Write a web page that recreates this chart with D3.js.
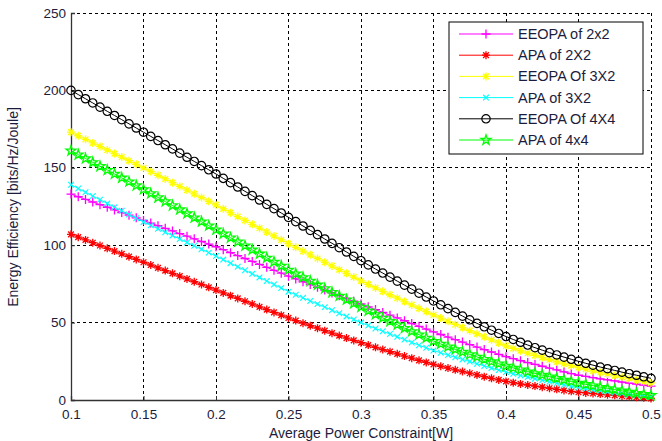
<!DOCTYPE html>
<html>
<head>
<meta charset="utf-8">
<script src="https://cdn.jsdelivr.net/npm/d3@7"></script>
<style>
  body { margin: 0; background: #fff; }
  text { font-family: "Liberation Sans", Arial, sans-serif; }
</style>
</head>
<body>
<div id="chart"></div>
<script>
var svgWidth = 662;
var svgHeight = 441;

var margin = { top: 13, right: 11, bottom: 41, left: 71 };
var chartWidth = svgWidth - margin.left - margin.right;
var chartHeight = svgHeight - margin.top - margin.bottom;

// average power constraint [W]
var powerValues = [
  0.100, 0.105, 0.110, 0.115, 0.120, 0.125, 0.130, 0.135, 0.140, 0.145,
  0.150, 0.155, 0.160, 0.165, 0.170, 0.175, 0.180, 0.185, 0.190, 0.195,
  0.200, 0.205, 0.210, 0.215, 0.220, 0.225, 0.230, 0.235, 0.240, 0.245,
  0.250, 0.255, 0.260, 0.265, 0.270, 0.275, 0.280, 0.285, 0.290, 0.295,
  0.300, 0.305, 0.310, 0.315, 0.320, 0.325, 0.330, 0.335, 0.340, 0.345,
  0.350, 0.355, 0.360, 0.365, 0.370, 0.375, 0.380, 0.385, 0.390, 0.395,
  0.400, 0.405, 0.410, 0.415, 0.420, 0.425, 0.430, 0.435, 0.440, 0.445,
  0.450, 0.455, 0.460, 0.465, 0.470, 0.475, 0.480, 0.485, 0.490, 0.495,
  0.500
];

var eeopa2x2 = [
  133.0, 131.3, 129.6, 127.9, 126.2, 124.5, 122.8, 121.1, 119.4, 117.7,
  116.0, 114.3, 112.6, 110.9, 109.2, 107.5, 105.8, 104.1, 102.4, 100.7,
  99.0, 97.1, 95.2, 93.3, 91.4, 89.5, 87.6, 85.7, 83.8, 81.9,
  80.0, 78.2, 76.4, 74.6, 72.8, 71.0, 69.2, 67.4, 65.6, 63.8,
  62.0, 60.2, 58.4, 56.6, 54.8, 53.0, 51.2, 49.4, 47.6, 45.8,
  44.0, 42.3, 40.6, 39.0, 37.4, 35.8, 34.2, 32.6, 31.0, 29.5,
  28.0, 26.7, 25.4, 24.2, 23.0, 21.8, 20.6, 19.4, 18.2, 17.1,
  16.0, 15.2, 14.4, 13.7, 13.0, 12.3, 11.6, 10.9, 10.2, 9.6,
  9.0
];

var apa2x2 = [
  107.0, 105.2, 103.4, 101.6, 99.8, 98.0, 96.2, 94.4, 92.6, 90.8,
  89.0, 87.2, 85.4, 83.6, 81.8, 80.0, 78.2, 76.4, 74.6, 72.8,
  71.0, 69.2, 67.4, 65.6, 63.8, 62.0, 60.2, 58.4, 56.6, 54.8,
  53.0, 51.3, 49.6, 48.0, 46.4, 44.8, 43.2, 41.6, 40.0, 38.5,
  37.0, 35.5, 34.0, 32.6, 31.2, 29.8, 28.4, 27.0, 25.6, 24.3,
  23.0, 21.8, 20.6, 19.5, 18.4, 17.3, 16.2, 15.1, 14.0, 13.0,
  12.0, 11.2, 10.4, 9.7, 9.0, 8.3, 7.6, 6.9, 6.2, 5.6,
  5.0, 4.6, 4.2, 3.8, 3.4, 3.0, 2.6, 2.2, 1.8, 1.4,
  1.0
];

var eeopa3x2 = [
  173.0, 170.7, 168.4, 166.1, 163.8, 161.5, 159.2, 156.9, 154.6, 152.3,
  150.0, 147.6, 145.2, 142.8, 140.4, 138.0, 135.6, 133.2, 130.8, 128.4,
  126.0, 123.5, 121.0, 118.5, 116.0, 113.5, 111.0, 108.5, 106.0, 103.5,
  101.0, 98.6, 96.2, 93.8, 91.4, 89.0, 86.6, 84.2, 81.8, 79.4,
  77.0, 74.7, 72.4, 70.2, 68.0, 65.8, 63.6, 61.4, 59.2, 57.1,
  55.0, 52.9, 50.8, 48.8, 46.8, 44.8, 42.8, 40.8, 38.8, 36.9,
  35.0, 33.4, 31.8, 30.3, 28.8, 27.4, 26.0, 24.7, 23.4, 22.2,
  21.0, 19.9, 18.8, 17.8, 16.8, 15.8, 14.8, 13.8, 12.8, 11.9,
  11.0
];

var apa3x2 = [
  139.0, 136.6, 134.2, 131.8, 129.4, 127.0, 124.6, 122.2, 119.8, 117.4,
  115.0, 112.8, 110.6, 108.4, 106.2, 104.0, 101.8, 99.6, 97.4, 95.2,
  93.0, 90.7, 88.4, 86.1, 83.8, 81.5, 79.2, 76.9, 74.6, 72.3,
  70.0, 68.0, 66.0, 64.0, 62.0, 60.0, 58.0, 56.0, 54.0, 52.0,
  50.0, 48.1, 46.2, 44.4, 42.6, 40.8, 39.0, 37.2, 35.4, 33.7,
  32.0, 30.5, 29.0, 27.6, 26.2, 24.8, 23.4, 22.0, 20.6, 19.3,
  18.0, 16.9, 15.8, 14.8, 13.8, 12.8, 11.8, 10.8, 9.8, 8.9,
  8.0, 7.3, 6.6, 6.0, 5.4, 4.8, 4.2, 3.6, 3.1, 2.5,
  2.0
];

var eeopa4x4 = [
  200.0, 197.3, 194.6, 191.9, 189.2, 186.5, 183.8, 181.1, 178.4, 175.7,
  173.0, 170.3, 167.6, 164.9, 162.2, 159.5, 156.8, 154.1, 151.4, 148.7,
  146.0, 143.2, 140.4, 137.6, 134.8, 132.0, 129.2, 126.4, 123.6, 120.8,
  118.0, 115.2, 112.4, 109.6, 106.8, 104.0, 101.2, 98.4, 95.6, 92.8,
  90.0, 87.3, 84.6, 82.0, 79.4, 76.8, 74.2, 71.6, 69.0, 66.5,
  64.0, 61.5, 59.0, 56.6, 54.2, 51.8, 49.5, 47.3, 45.1, 43.0,
  41.0, 39.1, 37.3, 35.5, 33.8, 32.2, 30.6, 29.1, 27.7, 26.3,
  25.0, 23.7, 22.5, 21.3, 20.2, 19.1, 18.0, 17.0, 16.0, 15.0,
  14.0
];

var apa4x4 = [
  161.0, 158.5, 156.0, 153.5, 151.0, 148.5, 146.0, 143.5, 141.0, 138.5,
  136.0, 133.4, 130.8, 128.2, 125.6, 123.0, 120.4, 117.8, 115.2, 112.6,
  110.0, 107.4, 104.8, 102.2, 99.6, 97.0, 94.4, 91.8, 89.2, 86.6,
  84.0, 81.6, 79.2, 76.8, 74.4, 72.0, 69.6, 67.2, 64.8, 62.4,
  60.0, 57.6, 55.3, 53.0, 50.8, 48.6, 46.4, 44.3, 42.2, 40.1,
  38.0, 36.2, 34.4, 32.7, 31.0, 29.4, 27.8, 26.3, 24.8, 23.4,
  22.0, 20.7, 19.5, 18.3, 17.2, 16.1, 15.0, 14.0, 13.0, 12.0,
  11.0, 10.1, 9.2, 8.3, 7.5, 6.7, 5.9, 5.1, 4.4, 3.7,
  3.0
];

var seriesNames = ["EEOPA of 2x2", "APA of 2X2", "EEOPA Of 3X2", "APA of 3X2", "EEOPA Of 4X4", "APA of 4x4"];
var seriesColors = ["#ff00ff", "#ff0000", "#ffff00", "#00ffff", "#000000", "#00ff00"];
var seriesMarkers = ["plus", "asterisk", "asterisk", "cross", "circle", "star"];
var seriesValues = [eeopa2x2, apa2x2, eeopa3x2, apa3x2, eeopa4x4, apa4x4];

var xTicks = [0.1, 0.15, 0.2, 0.25, 0.3, 0.35, 0.4, 0.45, 0.5];
var yTicks = [0, 50, 100, 150, 200, 250];

var svg = d3.select("#chart").append("svg")
  .attr("width", svgWidth)
  .attr("height", svgHeight);

var chartGroup = svg.append("g")
  .attr("transform", `translate(${margin.left}, ${margin.top})`);

var xScale = d3.scaleLinear().domain([0.1, 0.5]).range([0, chartWidth]);
var yScale = d3.scaleLinear().domain([0, 250]).range([chartHeight, 0]);

// dashed grid (MATLAB "grid on", box off)
chartGroup.selectAll(".vgrid")
  .data(xTicks.slice(1))
  .enter().append("line")
  .attr("x1", d => xScale(d)).attr("x2", d => xScale(d))
  .attr("y1", 0).attr("y2", chartHeight)
  .attr("stroke", "#000").attr("stroke-width", 1)
  .attr("stroke-dasharray", "3,3")
  .attr("shape-rendering", "crispEdges");

chartGroup.selectAll(".hgrid")
  .data(yTicks.slice(1))
  .enter().append("line")
  .attr("x1", 0).attr("x2", chartWidth)
  .attr("y1", d => yScale(d)).attr("y2", d => yScale(d))
  .attr("stroke", "#000").attr("stroke-width", 1)
  .attr("stroke-dasharray", "3,3")
  .attr("shape-rendering", "crispEdges");

// axes
var xAxis = d3.axisBottom(xScale).tickValues(xTicks).tickFormat(d3.format("")).tickSize(-4).tickPadding(9);
var yAxis = d3.axisLeft(yScale).tickValues(yTicks).tickSize(-4).tickPadding(5);

var gx = chartGroup.append("g")
  .attr("transform", `translate(0, ${chartHeight})`)
  .call(xAxis);
var gy = chartGroup.append("g").call(yAxis);

[gx, gy].forEach(function(g) {
  g.select(".domain").attr("stroke", "#333").attr("stroke-width", 1.3);
  g.selectAll(".tick line").attr("stroke", "#333");
  g.selectAll(".tick text")
    .attr("fill", "#1c1c3c")
    .style("font-size", "13.5px");
});
gy.selectAll(".tick text").attr("dy", "0.3em");

// marker shapes
function drawMarker(g, type, color, size) {
  var s = size;
  if (type === "plus") {
    g.append("path").attr("d", `M${-s},0H${s}M0,${-s}V${s}`)
      .attr("stroke", color).attr("stroke-width", 1.3).attr("fill", "none");
  } else if (type === "cross") {
    var c = s * 0.75;
    g.append("path").attr("d", `M${-c},${-c}L${c},${c}M${-c},${c}L${c},${-c}`)
      .attr("stroke", color).attr("stroke-width", 1.1).attr("fill", "none");
  } else if (type === "asterisk") {
    var a = s * 0.72;
    g.append("path").attr("d", `M${-s},0H${s}M0,${-s}V${s}M${-a},${-a}L${a},${a}M${-a},${a}L${a},${-a}`)
      .attr("stroke", color).attr("stroke-width", 1.3).attr("fill", "none");
  } else if (type === "circle") {
    g.append("circle").attr("r", s).attr("stroke", color).attr("stroke-width", 1.2).attr("fill", "none");
  } else if (type === "star") {
    g.append("path").attr("d", d3.symbol().type(d3.symbolStar).size(s * s * 1.7)())
      .attr("stroke", color).attr("stroke-width", 1.3).attr("fill", "none");
  }
}

var markerSizes = { plus: 4.5, asterisk: 4, cross: 3.8, circle: 4.2, star: 4.2 };

var line = d3.line()
  .x(d => xScale(d[0]))
  .y(d => yScale(d[1]));

seriesValues.forEach(function(vals, i) {
  var pts = powerValues.map((p, j) => [p, vals[j]]);
  var sg = chartGroup.append("g");
  sg.append("path")
    .datum(pts)
    .attr("d", line)
    .attr("fill", "none")
    .attr("stroke", seriesColors[i])
    .attr("stroke-width", 1);
  sg.selectAll(".m")
    .data(pts)
    .enter().append("g")
    .attr("transform", d => `translate(${xScale(d[0])}, ${yScale(d[1])})`)
    .each(function() {
      drawMarker(d3.select(this), seriesMarkers[i], seriesColors[i], markerSizes[seriesMarkers[i]]);
    });
});

// axis labels
svg.append("text")
  .attr("x", margin.left + chartWidth / 2)
  .attr("y", 438)
  .attr("text-anchor", "middle")
  .attr("fill", "#1c1c3c")
  .style("font-size", "14px")
  .text("Average Power Constraint[W]");

svg.append("text")
  .attr("transform", "translate(18, 207) rotate(-90)")
  .attr("text-anchor", "middle")
  .attr("fill", "#1c1c3c")
  .style("font-size", "14px")
  .text("Energy Efficiency [bits/Hz/Joule]");

// legend
var legend = svg.append("g").attr("transform", "translate(449, 22)");
legend.append("rect")
  .attr("width", 194).attr("height", 132)
  .attr("fill", "#fff").attr("stroke", "#000").attr("stroke-width", 1);

seriesNames.forEach(function(name, i) {
  var row = legend.append("g").attr("transform", `translate(0, ${12 + i * 21.2})`);
  row.append("line")
    .attr("x1", 10).attr("x2", 64)
    .attr("stroke", seriesColors[i]).attr("stroke-width", 1);
  var mk = row.append("g").attr("transform", "translate(37, 0)");
  drawMarker(mk, seriesMarkers[i], seriesColors[i], markerSizes[seriesMarkers[i]]);
  row.append("text")
    .attr("x", 69).attr("dy", "0.35em")
    .attr("fill", "#1c1c3c")
    .style("font-size", "14.5px")
    .text(name);
});
</script>
</body>
</html>
